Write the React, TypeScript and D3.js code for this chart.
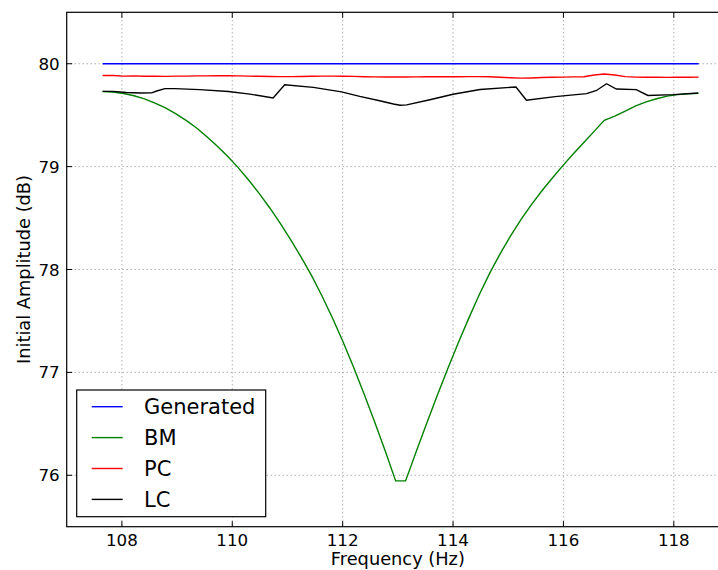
import React from 'react';
import * as d3 from 'd3';

// frequency grid (Hz) shared by BM and PC
const freq = [
  107.65, 107.84, 108.03, 108.22, 108.41, 108.6, 108.79, 108.98, 109.17, 109.36,
  109.54, 109.73, 109.92, 110.11, 110.3, 110.49, 110.68, 110.87, 111.06, 111.25,
  111.44, 111.63, 111.82, 112.01, 112.2, 112.39, 112.58, 112.77, 112.96, 113.14,
  113.33, 113.52, 113.71, 113.9, 114.09, 114.28, 114.47, 114.66, 114.85, 115.04,
  115.23, 115.42, 115.61, 115.8, 115.99, 116.18, 116.37, 116.56, 116.74, 116.93,
  117.12, 117.31, 117.5, 117.69, 117.88, 118.07, 118.26, 118.45,
];

const bmValues = [
  79.73, 79.725, 79.711, 79.689, 79.658, 79.618, 79.57, 79.513, 79.447, 79.373,
  79.29, 79.198, 79.098, 78.988, 78.868, 78.738, 78.598, 78.448, 78.288, 78.118,
  77.938, 77.738, 77.523, 77.293, 77.048, 76.788, 76.518, 76.238, 75.945, 75.945,
  76.225, 76.5, 76.77, 77.03, 77.28, 77.52, 77.75, 77.96, 78.15, 78.325,
  78.485, 78.63, 78.765, 78.89, 79.01, 79.125, 79.235, 79.345, 79.45, 79.49,
  79.54, 79.59, 79.63, 79.66, 79.685, 79.7, 79.707, 79.712,
];

const pcValues = [
  79.885, 79.885, 79.88, 79.882, 79.878, 79.88, 79.877, 79.88, 79.88, 79.882,
  79.882, 79.883, 79.883, 79.882, 79.88, 79.878, 79.876, 79.875, 79.875, 79.876,
  79.878, 79.88, 79.88, 79.879, 79.877, 79.874, 79.872, 79.871, 79.871, 79.871,
  79.872, 79.873, 79.874, 79.874, 79.874, 79.875, 79.875, 79.873, 79.869, 79.864,
  79.86, 79.862, 79.866, 79.868, 79.87, 79.872, 79.873, 79.89, 79.9, 79.89,
  79.875, 79.87, 79.868, 79.868, 79.867, 79.868, 79.868, 79.87,
];

const genFreq = [107.65, 118.45];
const genValues = [80, 80];

const lcFreq = [
  107.65, 107.84, 108.08, 108.33, 108.54, 108.63, 108.78, 108.96, 109.41, 109.93,
  110.32, 110.74, 110.95, 111.47, 111.98, 112.31, 112.67, 112.92, 113.04, 113.16,
  113.58, 114.0, 114.49, 115.14, 115.33, 115.85, 116.42, 116.6, 116.78, 116.96,
  117.32, 117.53, 117.99, 118.44,
];
const lcValues = [
  79.731, 79.731, 79.72, 79.715, 79.717, 79.735, 79.758, 79.758, 79.748, 79.73,
  79.705, 79.667, 79.796, 79.77, 79.727, 79.683, 79.64, 79.609, 79.597, 79.6,
  79.65, 79.703, 79.75, 79.774, 79.646, 79.68, 79.709, 79.74, 79.806, 79.754,
  79.748, 79.692, 79.7, 79.715,
];

const xTicks = [108, 110, 112, 114, 116, 118];
const yTicks = [76, 77, 78, 79, 80];
const seriesNames = ['Generated', 'BM', 'PC', 'LC'];
const seriesColors = ['#0000ff', '#008000', '#ff0000', '#000000'];

const W = 718;
const H = 570;
const left = 66.7;
const right = 729;
const top = 12.3;
const bottom = 526.7;
const font = '"DejaVu Sans", sans-serif';

export default function App() {
  const x = d3.scaleLinear().domain([107, 119]).range([left, right]);
  const y = d3.scaleLinear().domain([75.5, 80.5]).range([bottom, top]);

  const line = d3
    .line<[number, number]>()
    .x((d) => x(d[0]))
    .y((d) => y(d[1]));

  const series = [
    d3.zip(genFreq, genValues),
    d3.zip(freq, bmValues),
    d3.zip(freq, pcValues),
    d3.zip(lcFreq, lcValues),
  ] as [number, number][][];

  const tick = 5.5;

  return (
    <svg
      width={W}
      height={H}
      style={{ position: 'absolute', left: 0, top: 0, background: '#fff' }}
      fontFamily={font}
    >
      <defs>
        <clipPath id="plot">
          <rect x={left} y={top} width={right - left} height={bottom - top} />
        </clipPath>
      </defs>
      <rect x={0} y={0} width={W} height={H} fill="#fff" />

      {/* grid */}
      <g stroke="#000" strokeWidth={0.6} strokeDasharray="1,3" opacity={0.75}>
        {xTicks.map((t) => (
          <line key={`gx${t}`} x1={x(t)} x2={x(t)} y1={top} y2={bottom} />
        ))}
        {yTicks.map((t) => (
          <line key={`gy${t}`} x1={left} x2={right} y1={y(t)} y2={y(t)} />
        ))}
      </g>

      {/* series */}
      <g clipPath="url(#plot)" fill="none" strokeWidth={1.4}>
        {series.map((s, i) => (
          <path key={seriesNames[i]} d={line(s) ?? ''} stroke={seriesColors[i]} />
        ))}
      </g>

      {/* ticks */}
      <g stroke="#000" strokeWidth={1}>
        {xTicks.map((t) => (
          <g key={`tx${t}`}>
            <line x1={x(t)} x2={x(t)} y1={bottom} y2={bottom - tick} />
            <line x1={x(t)} x2={x(t)} y1={top} y2={top + tick} />
          </g>
        ))}
        {yTicks.map((t) => (
          <g key={`ty${t}`}>
            <line x1={left} x2={left + tick} y1={y(t)} y2={y(t)} />
            <line x1={right} x2={right - tick} y1={y(t)} y2={y(t)} />
          </g>
        ))}
      </g>

      {/* spines */}
      <rect
        x={left}
        y={top}
        width={right - left}
        height={bottom - top}
        fill="none"
        stroke="#000"
        strokeWidth={1.2}
      />

      {/* tick labels */}
      <g fontSize={16.7} fill="#000">
        {xTicks.map((t) => (
          <text key={`lx${t}`} x={x(t)} y={bottom + 19} textAnchor="middle">
            {t}
          </text>
        ))}
        {yTicks.map((t) => (
          <text key={`ly${t}`} x={left - 7} y={y(t) + 6} textAnchor="end">
            {t}
          </text>
        ))}
      </g>

      {/* axis labels */}
      <text x={(left + right) / 2} y={565} textAnchor="middle" fontSize={17.8}>
        Frequency (Hz)
      </text>
      <text
        transform={`translate(29.5, ${(top + bottom) / 2}) rotate(-90)`}
        textAnchor="middle"
        fontSize={17.8}
      >
        Initial Amplitude (dB)
      </text>

      {/* legend */}
      <g>
        <rect x={76.7} y={390} width={189} height={126.7} fill="#fff" stroke="#000" strokeWidth={1.2} />
        {seriesNames.map((name, i) => {
          const ly = 406.7 + i * 30.9;
          return (
            <g key={`leg${name}`}>
              <line x1={91.7} x2={122.7} y1={ly} y2={ly} stroke={seriesColors[i]} strokeWidth={1.4} />
              <text x={144} y={ly + 7.5} fontSize={21}>
                {name}
              </text>
            </g>
          );
        })}
      </g>
    </svg>
  );
}
